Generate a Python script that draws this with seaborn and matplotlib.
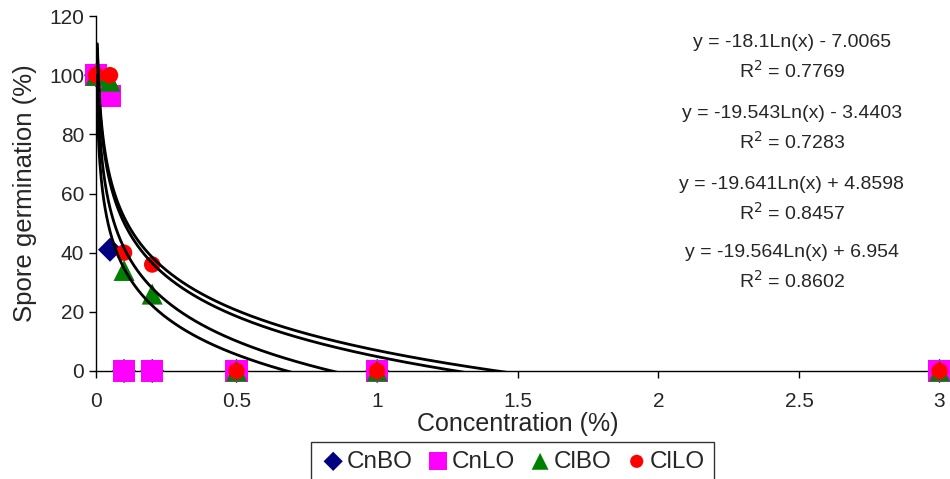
import numpy as np
import pandas as pd
import matplotlib
matplotlib.use("Agg")
import matplotlib.pyplot as plt
import seaborn as sns

# --- DATA ---
conc = [0, 0.05, 0.1, 0.2, 0.5, 1, 3]
cnbo = [100, 41, 0, 0, 0, 0, 0]
cnlo = [100, 93, 0, 0, 0, 0, 0]
clbo = [100, 98, 34, 26, 0, 0, 0]
cllo = [100, 100, 40, 36, 0, 0, 0]
series_names = ["CnBO", "CnLO", "ClBO", "ClLO"]

# log trendlines y = a*ln(x) + b
trend_a = [-18.1, -19.543, -19.641, -19.564]
trend_b = [-7.0065, -3.4403, 4.8598, 6.954]
trend_r2 = ["0.7769", "0.7283", "0.8457", "0.8602"]
trend_xmin = 0.005

# --- STYLE ---
sns.set_style("white")
plt.rcParams["font.family"] = ["Liberation Sans", "DejaVu Sans"]

markers = {"CnBO": "D", "CnLO": "s", "ClBO": "^", "ClLO": "o"}
sizes = {"CnBO": 150, "CnLO": 260, "ClBO": 230, "ClLO": 140}
colors = {"CnBO": "#000080", "CnLO": "#FF00FF", "ClBO": "#008000", "ClLO": "#FF0000"}

df = pd.DataFrame({"conc": conc, "CnBO": cnbo, "CnLO": cnlo, "ClBO": clbo, "ClLO": cllo})
long_df = df.melt(id_vars="conc", var_name="series", value_name="germ")

fig = plt.figure(figsize=(9.5, 4.79), dpi=100)
ax = fig.add_axes([0.101, 0.2255, 0.888, 0.741])

for name in series_names:
    sub = long_df[long_df["series"] == name]
    sns.scatterplot(data=sub, x="conc", y="germ", marker=markers[name], s=sizes[name],
                    color=colors[name], edgecolor="none", label=name, ax=ax,
                    zorder=3, clip_on=False)

xs = np.linspace(trend_xmin, 3, 2000)
for a, b in zip(trend_a, trend_b):
    sns.lineplot(x=xs, y=a * np.log(xs) + b, color="black", linewidth=2,
                 ax=ax, zorder=4, legend=False)

ax.set_xlim(0, 3)
ax.set_ylim(0, 120)
ax.set_xticks([0, 0.5, 1, 1.5, 2, 2.5, 3])
ax.set_xticklabels(["0", "0.5", "1", "1.5", "2", "2.5", "3"])
ax.set_yticks(range(0, 121, 20))
ax.tick_params(axis="both", direction="out", length=5, width=1, labelsize=15,
               color="black", bottom=True, left=True)
ax.tick_params(axis="x", length=5, pad=10)
ax.xaxis.labelpad = 1
ax.yaxis.labelpad = 9
for side in ["top", "right"]:
    ax.spines[side].set_visible(False)
for side in ["left", "bottom"]:
    ax.spines[side].set_color("black")
    ax.spines[side].set_linewidth(1)

ax.set_xlabel("Concentration (%)", fontsize=18)
ax.set_ylabel("Spore germination (%)", fontsize=18.5)

# equation labels
eq_y = [106, 82, 58, 35]
for a, b, r2, yy in zip(trend_a, trend_b, trend_r2, eq_y):
    sign = "-" if b < 0 else "+"
    txt = f"y = {a:g}Ln(x) {sign} {abs(b):g}\nR$^2$ = {r2}"
    ax.text(2.475, yy, txt, ha="center", va="center", fontsize=14, linespacing=1.5)

ax.get_legend().remove()
handles, labels = ax.get_legend_handles_labels()
leg = fig.legend(handles, labels, loc="lower center", bbox_to_anchor=(0.5395, -0.03),
                 bbox_transform=fig.transFigure, ncol=4, fontsize=17.5,
                 frameon=True, fancybox=False, edgecolor="black", handletextpad=0.0,
                 columnspacing=0.5, borderpad=0.35, markerscale=0.8, handlelength=1.1)
leg.get_frame().set_linewidth(1)

fig.savefig("out.png", dpi=100)
